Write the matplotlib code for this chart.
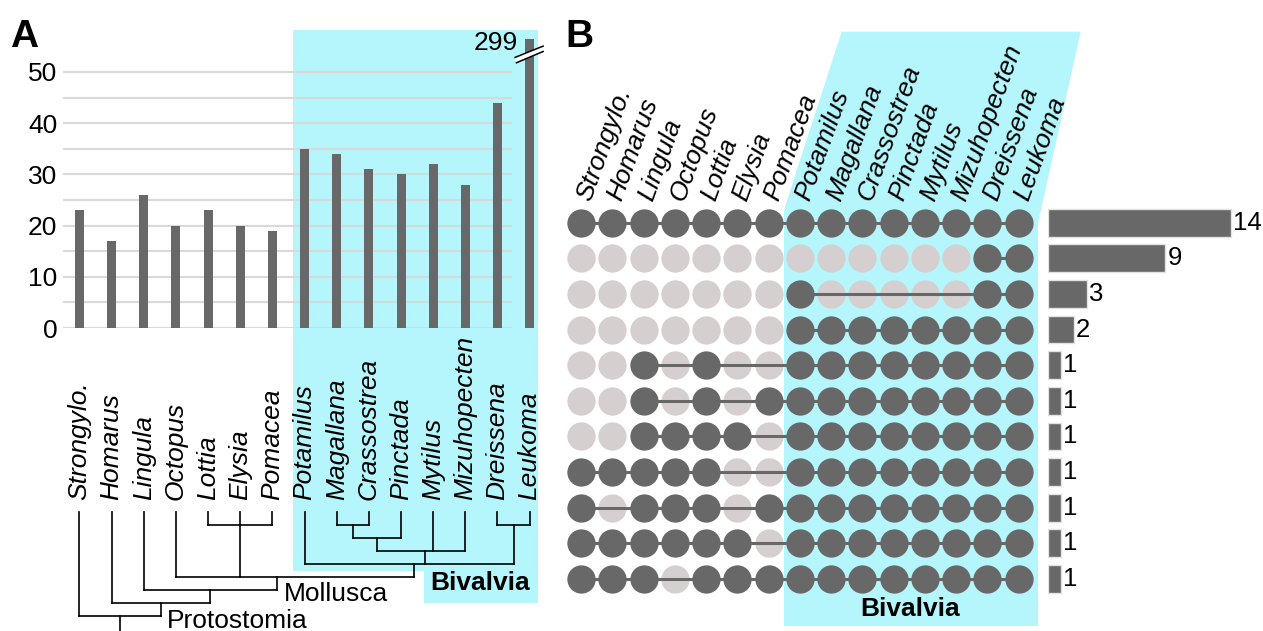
import numpy as np
import matplotlib
matplotlib.use('Agg')
import matplotlib.pyplot as plt
from matplotlib.patches import Polygon

plt.rcParams['font.family'] = ['Liberation Sans', 'DejaVu Sans']

W, H = 1263, 631
DARK = '#686868'
LIGHT = '#d6cfcf'
CYAN = '#b4f6fb'
GRID = '#d9d9d9'
FS = 19

# species order shared by both panels
species = ['Strongylo.', 'Homarus', 'Lingula', 'Octopus', 'Lottia', 'Elysia', 'Pomacea',
           'Potamilus', 'Magallana', 'Crassostrea', 'Pinctada', 'Mytilus', 'Mizuhopecten',
           'Dreissena', 'Leukoma']
gene_counts = [23, 17, 26, 20, 23, 20, 19, 35, 34, 31, 30, 32, 28, 44, 299]
y_ticks = [0, 10, 20, 30, 40, 50]

# shared gene presence per species (1 = present), one row per pattern
presence = [
    [1, 1, 1, 1, 1, 1, 1, 1, 1, 1, 1, 1, 1, 1, 1],
    [0, 0, 0, 0, 0, 0, 0, 0, 0, 0, 0, 0, 0, 1, 1],
    [0, 0, 0, 0, 0, 0, 0, 1, 0, 0, 0, 0, 0, 1, 1],
    [0, 0, 0, 0, 0, 0, 0, 1, 1, 1, 1, 1, 1, 1, 1],
    [0, 0, 1, 0, 1, 0, 0, 1, 1, 1, 1, 1, 1, 1, 1],
    [0, 0, 1, 0, 1, 0, 1, 1, 1, 1, 1, 1, 1, 1, 1],
    [0, 0, 1, 1, 1, 1, 0, 1, 1, 1, 1, 1, 1, 1, 1],
    [1, 1, 1, 1, 1, 0, 0, 1, 1, 1, 1, 1, 1, 1, 1],
    [1, 0, 1, 1, 1, 0, 1, 1, 1, 1, 1, 1, 1, 1, 1],
    [1, 1, 1, 1, 1, 1, 0, 1, 1, 1, 1, 1, 1, 1, 1],
    [1, 1, 1, 0, 1, 1, 1, 1, 1, 1, 1, 1, 1, 1, 1],
]
pattern_counts = [14, 9, 3, 2, 1, 1, 1, 1, 1, 1, 1]

# phylogeny: leaves are species indices, inner nodes are (level, children)
tree = (8, [0, (7, [1, (6, [2, (5, [3, (1, [4, 5, 6]),
        (4, [7, (3, [(2, [(1, [8, 9]), 10]), 11, 12]), (1, [13, 14])])])])])])

fig = plt.figure(figsize=(W / 100, H / 100), dpi=100)


def px_axes(x0, y0, x1, y1):
    ax = fig.add_axes([x0 / W, 1 - y1 / H, (x1 - x0) / W, (y1 - y0) / H])
    ax.patch.set_visible(False)
    return ax


# background layer in pixel units
bg = px_axes(0, 0, W, H)
bg.set_xlim(0, W)
bg.set_ylim(H, 0)
bg.axis('off')
bg.add_patch(Polygon([(292.5, 29.5), (538.4, 29.5), (538.4, 603), (423.5, 603),
                      (423.5, 571), (292.5, 571)], closed=True, fc=CYAN, ec='none'))
bg.add_patch(Polygon([(841.7, 31.7), (1080.7, 31.7), (1041.7, 206.7), (1038, 222),
                      (1038, 626), (784, 626), (784, 212), (785, 206.7)],
                     closed=True, fc=CYAN, ec='none'))
bg.text(10, 47, 'A', fontsize=28, fontweight='bold', va='baseline')
bg.text(565, 47, 'B', fontsize=28, fontweight='bold', va='baseline')

# ---- panel A: bar chart ----
x = np.arange(len(species))
ax_a = px_axes(63.4, 39.2, 545.7, 328)
ax_a.set_xlim(-0.5, 14.5)
ax_a.set_ylim(0, 56.4)
ax_a.hlines(np.arange(0, 55, 5), -0.5, 13.45, color=GRID, lw=1.5, zorder=1)
ax_a.bar(x, gene_counts, width=0.28, color=DARK, zorder=3)
ax_a.set_xticks([])
ax_a.set_yticks(y_ticks)
ax_a.tick_params(axis='y', length=0, pad=4.5, labelsize=FS)
for s in ax_a.spines.values():
    s.set_visible(False)

# axis break on the tallest bar
bx, by = x[-1], 53.4
brk = np.array([[bx - 0.45, by - 0.55], [bx + 0.42, by + 1.65],
                [bx + 0.42, by + 0.6], [bx - 0.41, by - 1.6]])
ax_a.add_patch(Polygon(brk, closed=True, fc='white', ec='none', zorder=4, clip_on=False))
ax_a.plot(brk[:2, 0], brk[:2, 1], color='black', lw=1.1, zorder=5, clip_on=False)
ax_a.plot(brk[2:, 0], brk[2:, 1], color='black', lw=1.1, zorder=5, clip_on=False)
ax_a.text(bx - 0.38, 55.6, str(gene_counts[-1]), ha='right', va='center', fontsize=FS)

# ---- panel A: tree and species names ----
ax_t = px_axes(63.4, 480, 545.7, H)
ax_t.set_xlim(-0.5, 14.5)
ax_t.set_ylim(9.107, -2.42)
ax_t.axis('off')


def draw_node(node):
    if isinstance(node, int):
        return float(node), 0.0
    level, children = node
    pts = [draw_node(c) for c in children]
    for cx, cy in pts:
        ax_t.plot([cx, cx], [cy, level], color='black', lw=1.2, solid_capstyle='projecting')
    xs = [p[0] for p in pts]
    ax_t.plot([min(xs), max(xs)], [level, level], color='black', lw=1.2,
              solid_capstyle='projecting')
    return float(np.mean(xs)), level


rx, rl = draw_node(tree)
ax_t.plot([rx, rx], [rl, 9.3], color='black', lw=1.2, clip_on=False)

for i, name in enumerate(species):
    ax_t.text(i, -0.88, name, rotation=90, ha='center', va='bottom',
              style='italic', fontsize=FS)
ax_t.text(6.35, 6.28, 'Mollusca', ha='left', va='center', fontsize=FS)
ax_t.text(2.72, 8.34, 'Protostomia', ha='left', va='center', fontsize=FS)
ax_t.text(12.47, 5.44, 'Bivalvia', ha='center', va='center', fontsize=FS,
          fontweight='bold')

# ---- panel B: presence matrix ----
ax_m = px_axes(565.4, 204.9, 1034.2, 596.8)
ax_m.set_xlim(-0.5, 14.5)
ax_m.set_ylim(10.5, -0.5)
ax_m.axis('off')
for r, row in enumerate(presence):
    row = np.array(row)
    on = row == 1
    # absent dots sit under the connector, present dots on top of it
    ax_m.scatter(x[~on], np.full((~on).sum(), r), s=415, c=LIGHT, linewidths=0, zorder=1)
    if on.sum() > 1:
        ax_m.plot([x[on].min(), x[on].max()], [r, r], color=DARK, lw=2.2, zorder=2)
    ax_m.scatter(x[on], np.full(on.sum(), r), s=415, c=DARK, linewidths=0, zorder=3)
for i, name in enumerate(species):
    ax_m.text(i + 0.3, -0.58, name, rotation=70, rotation_mode='anchor', ha='left',
              va='baseline', style='italic', fontsize=FS, clip_on=False)
bg.text(910, 609, 'Bivalvia', ha='center', va='center', fontsize=FS, fontweight='bold')

# ---- panel B: pattern counts ----
ax_c = px_axes(1048, 204.9, 1256.8, 596.8)
ax_c.set_xlim(0, 16)
ax_c.set_ylim(10.5, -0.5)
ax_c.axis('off')
rows = np.arange(len(pattern_counts))
ax_c.barh(rows, pattern_counts, height=0.78, color=DARK, edgecolor='#e2e2e2', lw=1)
for r, v in zip(rows, pattern_counts):
    ax_c.text(v + 0.15, r, str(v), ha='left', va='center', fontsize=18.5, clip_on=False)

fig.savefig('out.png', dpi=100)
